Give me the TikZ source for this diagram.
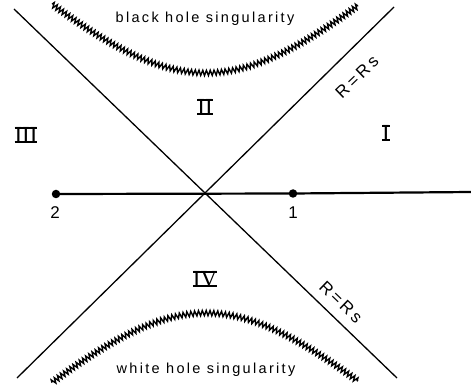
\documentclass[tikz,border=0pt]{standalone}
\usepackage{fontspec}
\setmainfont{Liberation Sans}
\newfontfamily\serifnum{Liberation Serif}
\usetikzlibrary{decorations.pathmorphing}
\newcommand{\barnum}[1]{{\serifnum\setbox0\hbox{#1}\rlap{\rule[-0.4pt]{\wd0}{1.5pt}}\rlap{\rule[\dimexpr\ht0-1.1pt\relax]{\wd0}{1.5pt}}\box0}}
\tikzset{
  horizon/.style={line width=1.3pt},
  axis/.style={line width=2.2pt},
  dot/.style={circle,fill=black,inner sep=0pt,minimum size=8.5pt},
  sing/.style={line width=1.4pt,decorate,decoration={zigzag,segment length=3.8pt,amplitude=2.6pt}},
  singlbl/.style={font=\fontsize{14.5}{16}\selectfont\addfontfeature{LetterSpace=16},anchor=base,inner sep=0pt},
  region/.style={font=\fontsize{23}{25}\selectfont,inner sep=0pt},
  numlbl/.style={font=\fontsize{17}{19}\selectfont,inner sep=0pt},
  rslbl/.style={font=\fontsize{17}{19}\selectfont\addfontfeature{LetterSpace=18},inner sep=0pt}
}
\begin{document}
\begin{tikzpicture}[x=1pt,y=-1pt]
\useasboundingbox (0,0) rectangle (471,387);
% horizons
\coordinate (tl) at (14,9);
\coordinate (br) at (397,378);
\coordinate (tr) at (394,7);
\coordinate (bl) at (17,378);
\draw[horizon] (tl) -- (br);
\draw[horizon] (tr) -- (bl);
% singularities
\draw[sing] plot[domain=-154:152,samples=35] (206+\x,{194-10*sqrt(146.41+(0.0095*\x)*(0.95*\x))});
\draw[sing] plot[domain=-154:152,samples=35] (206+\x,{194+10*sqrt(141.61+(0.0095*\x)*(0.95*\x))});
\node[singlbl] (bhs) at (205,23) {black hole singularity};
\node[singlbl] (whs) at (206,373) {white hole singularity};
% t=0 slice
\node[dot] (p2) at (56,194) {};
\node[dot] (p1) at (293,193.5) {};
\coordinate (rend) at (471,192);
\draw[axis] (p2.center) -- (p1.center) -- (rend);
\node[numlbl] (l2) at (55,213) {2};
\node[numlbl] (l1) at (293,213) {1};
% regions
\node[region] (rI) at (386,133) {\barnum{I}};
\node[region] (rII) at (205,107) {\barnum{II}};
\node[region] (rIII) at (26,135) {\barnum{III}};
\node[region] (rIV) at (205,279) {\barnum{IV}};
% horizon labels
\node[rslbl,rotate=44] (rs1) at (357,77) {R=Rs};
\node[rslbl,rotate=-44] (rs2) at (341,302) {R=Rs};
\end{tikzpicture}
\end{document}
